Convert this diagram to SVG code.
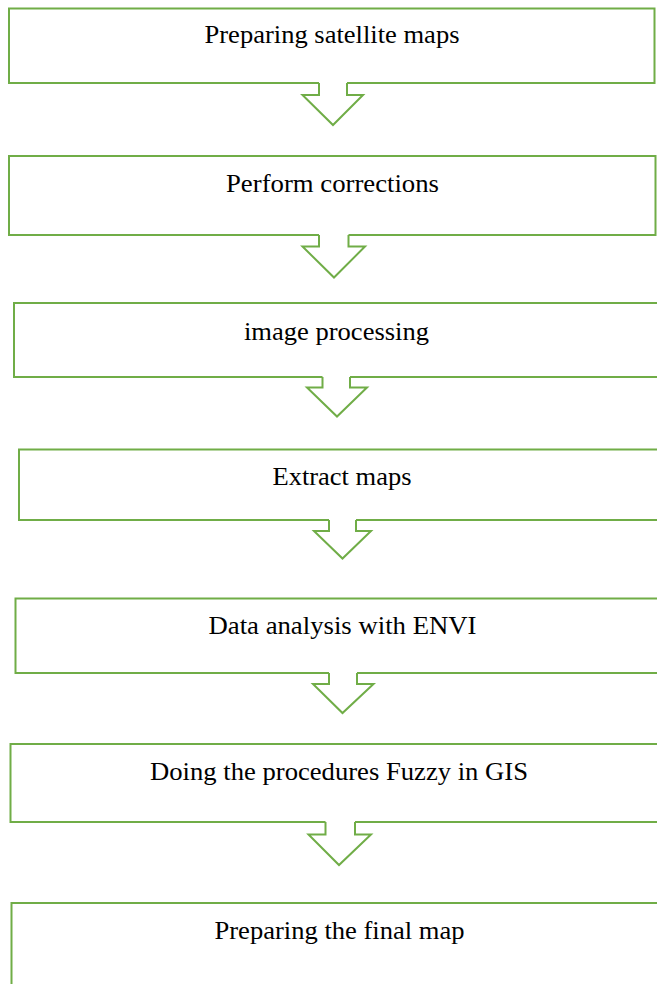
<svg xmlns="http://www.w3.org/2000/svg" width="657" height="984" viewBox="0 0 657 984">
<style>
.box{fill:none;stroke:#70AD47;stroke-width:2;stroke-linejoin:miter}
.arr{fill:none;stroke:#70AD47;stroke-width:2;stroke-linejoin:miter}
.lbl{font-family:"Liberation Serif","Times New Roman",serif;font-size:26px;fill:#000;text-anchor:middle}
</style>
<rect width="657" height="984" fill="#fff"/>
<g id="node1">
<path class="box" d="M319,83 H9 V8.5 H654.5 V83 H347"/>
<text class="lbl" x="332" y="43" textLength="255" lengthAdjust="spacingAndGlyphs">Preparing satellite maps</text>
</g>
<g id="node2">
<path class="box" d="M319,235 H9 V156 H655.5 V235 H348.5"/>
<text class="lbl" x="332.5" y="192" textLength="213" lengthAdjust="spacingAndGlyphs">Perform corrections</text>
</g>
<g id="node3">
<path class="box" d="M322.5,377 H14 V303 H662 V377 H350"/>
<text class="lbl" x="336.5" y="340" textLength="185" lengthAdjust="spacingAndGlyphs">image processing</text>
</g>
<g id="node4">
<path class="box" d="M329,520 H19 V449.5 H662 V520 H356"/>
<text class="lbl" x="342" y="485" textLength="139" lengthAdjust="spacingAndGlyphs">Extract maps</text>
</g>
<g id="node5">
<path class="box" d="M329,673 H15.5 V598.5 H662 V673 H357"/>
<text class="lbl" x="342.5" y="633.5" textLength="268" lengthAdjust="spacingAndGlyphs">Data analysis with ENVI</text>
</g>
<g id="node6">
<path class="box" d="M325.5,822 H10.5 V744 H662 V822 H355"/>
<text class="lbl" x="339" y="780" textLength="378" lengthAdjust="spacingAndGlyphs">Doing the procedures Fuzzy in GIS</text>
</g>
<g id="node7">
<path class="box" d="M11.5,992 V903 H662"/>
<text class="lbl" x="339.5" y="938.5" textLength="250" lengthAdjust="spacingAndGlyphs">Preparing the final map</text>
</g>
<g id="connectors">
<path class="arr" d="M319,83 V95 H302.5 L333,125 L363,95 H347 V83"/>
<path class="arr" d="M319,235 V246.5 H302.5 L334,277.5 L365,246.5 H348.5 V235"/>
<path class="arr" d="M322.5,377 V387.5 H307 L337,416.5 L367,387.5 H350 V377"/>
<path class="arr" d="M329,520 V531 H314 L342.5,558.5 L371,531 H356 V520"/>
<path class="arr" d="M329,673 V684 H313 L342.5,713 L373.5,684 H357 V673"/>
<path class="arr" d="M325.5,822 V834.5 H308.5 L339,865 L371,834.5 H355 V822"/>
</g>
</svg>
